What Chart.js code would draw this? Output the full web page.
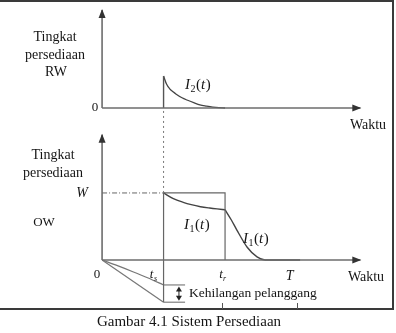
<!DOCTYPE html>
<html>
<head>
<meta charset="utf-8">
<script src="https://cdn.jsdelivr.net/npm/chart.js@4/dist/chart.umd.min.js"></script>
<style>
html,body{margin:0;padding:0;background:#fff;}
canvas{display:block;}
</style>
</head>
<body>
<canvas id="c" width="396" height="333"></canvas>
<script>
// ---- data (time in units where t_s = 1, t_r = 2; levels relative to W = 1 / RW peak = 1) ----
const keyTimes = { ts: 1, tr: 2, T: 3.05, axisEnd: 4.2 };
const frameTickTimes = [1.95, 3.17];

// RW panel: I2(t)
const i2Times  = [1.0, 1.05, 1.1, 1.16, 1.2, 1.3, 1.38, 1.5, 1.59, 1.7, 1.8, 1.9, 2.0];
const i2Values = [1.0, 0.74, 0.6, 0.5, 0.44, 0.32, 0.25, 0.16, 0.1, 0.06, 0.03, 0.01, 0.0];

// OW panel: I1(t) while RW is used (t_s..t_r)
const i1aTimes  = [1.0, 1.15, 1.32, 1.45, 1.6, 1.75, 1.87, 2.0];
const i1aValues = [1.0, 0.92, 0.86, 0.825, 0.795, 0.775, 0.762, 0.75];
// OW panel: I1(t) after t_r
const i1bTimes  = [2.0, 2.1, 2.19, 2.36, 2.52, 2.65, 2.9, 3.22];
const i1bValues = [0.75, 0.6, 0.45, 0.19, 0.045, 0.0, 0.0, 0.0];

// lost customers (below axis)
const lostUpperTimes  = [0, 0.25, 0.5, 0.75, 1.0];
const lostUpperValues = [0, -0.085, -0.175, -0.27, -0.373];
const lostLowerTimes  = [0, 1.0];
const lostLowerValues = [0, -0.63];

const levelW = 1;
const rwPeak = 1;

// ---- helpers ----
const pts = (xs, ys) => xs.map((x, i) => ({ x: x, y: ys[i] }));
const lineCol = '#444';
const axisCol = '#6c6c6c';
const txtCol  = '#151515';
const serif = '"Liberation Serif", "Times New Roman", serif';

function ds(data, axis, opts) {
  return Object.assign({
    data: data, yAxisID: axis, borderColor: lineCol, borderWidth: 1.3,
    pointRadius: 0, fill: false, tension: 0, showLine: true
  }, opts || {});
}

const datasets = [
  // RW axes
  ds([{x:0,y:0},{x:0,y:3.06}], 'yRW', {borderColor: axisCol, borderWidth: 1.6}),
  ds([{x:0,y:0},{x:keyTimes.axisEnd,y:0}], 'yRW', {borderColor: axisCol, borderWidth: 1.4}),
  // RW spike + decay
  ds([{x:keyTimes.ts,y:0},{x:keyTimes.ts,y:rwPeak}], 'yRW', {borderColor: '#555', borderWidth: 1.4}),
  ds(pts(i2Times, i2Values), 'yRW', {cubicInterpolationMode: 'monotone'}),
  // OW axes
  ds([{x:0,y:0},{x:0,y:1.87}], 'yOW', {borderColor: axisCol, borderWidth: 1.6}),
  ds([{x:0,y:0},{x:keyTimes.axisEnd,y:0}], 'yOW', {borderColor: axisCol, borderWidth: 1.4}),
  // dotted connector from RW axis down to W level
  ds([{x:keyTimes.ts,y:levelW},{x:keyTimes.ts,y:2.27}], 'yOW', {borderColor: '#777', borderWidth: 1, borderDash: [2,3]}),
  // W dash-dot reference
  ds([{x:0,y:levelW},{x:keyTimes.ts,y:levelW}], 'yOW', {borderColor: '#666', borderWidth: 1, borderDash: [5,2,1,2]}),
  // rectangle (ts..tr, 0..W) plus vertical down to lost level
  ds([{x:keyTimes.ts,y:lostLowerValues[1]},{x:keyTimes.ts,y:levelW},{x:keyTimes.tr,y:levelW},{x:keyTimes.tr,y:0}], 'yOW', {borderColor: '#666', borderWidth: 1.2}),
  // I1 curves
  ds(pts(i1aTimes, i1aValues), 'yOW', {cubicInterpolationMode: 'monotone', borderWidth: 1.4}),
  ds(pts(i1bTimes, i1bValues), 'yOW', {cubicInterpolationMode: 'monotone', borderWidth: 1.4}),
  // lost customers lines
  ds(pts(lostUpperTimes, lostUpperValues), 'yOW', {cubicInterpolationMode: 'monotone', borderColor: '#777', borderWidth: 1.2}),
  ds(pts(lostLowerTimes, lostLowerValues), 'yOW', {borderColor: '#777', borderWidth: 1.2}),
  // short horizontal markers
  ds([{x:keyTimes.ts,y:lostUpperValues[4]},{x:1.35,y:lostUpperValues[4]}], 'yOW', {borderColor: '#666', borderWidth: 1}),
  ds([{x:keyTimes.ts,y:lostLowerValues[1]},{x:1.35,y:lostLowerValues[1]}], 'yOW', {borderColor: '#666', borderWidth: 1})
];

function arrowHead(ctx, x, y, dir) {
  ctx.beginPath();
  if (dir === 'up') { ctx.moveTo(x, y); ctx.lineTo(x-3.5, y+9); ctx.lineTo(x+3.5, y+9); }
  else if (dir === 'right') { ctx.moveTo(x, y); ctx.lineTo(x-9, y-3.5); ctx.lineTo(x-9, y+3.5); }
  else if (dir === 'down') { ctx.moveTo(x, y); ctx.lineTo(x-3, y-5); ctx.lineTo(x+3, y-5); }
  else if (dir === 'upSmall') { ctx.moveTo(x, y); ctx.lineTo(x-3, y+5); ctx.lineTo(x+3, y+5); }
  ctx.closePath(); ctx.fill();
}

// draws e.g. I_2(t) with italic letters and subscript
function drawIt(ctx, x, y, sub) {
  ctx.textBaseline = 'alphabetic';
  ctx.textAlign = 'left';
  let cx = x;
  ctx.font = 'italic 15px ' + serif; ctx.fillText('I', cx, y); cx += ctx.measureText('I').width + 0.5;
  ctx.font = '10px ' + serif; ctx.fillText(sub, cx, y + 3); cx += ctx.measureText(sub).width + 0.5;
  ctx.font = '15px ' + serif; ctx.fillText('(', cx, y); cx += ctx.measureText('(').width;
  ctx.font = 'italic 15px ' + serif; ctx.fillText('t', cx, y); cx += ctx.measureText('t').width + 0.5;
  ctx.font = '15px ' + serif; ctx.fillText(')', cx, y);
}

const decor = {
  id: 'decor',
  afterDatasetsDraw(chart) {
    const ctx = chart.ctx;
    const sx = chart.scales.x, sOW = chart.scales.yOW, sRW = chart.scales.yRW;
    ctx.save();
    // frame
    ctx.strokeStyle = '#3a3a3a'; ctx.lineWidth = 2;
    ctx.beginPath(); ctx.moveTo(0, 1); ctx.lineTo(393, 1); ctx.lineTo(393, 309); ctx.lineTo(0, 309); ctx.stroke();
    // frame ticks
    ctx.strokeStyle = '#555'; ctx.lineWidth = 1;
    frameTickTimes.forEach(t => { const px = Math.round(sx.getPixelForValue(t)) + 0.5; ctx.beginPath(); ctx.moveTo(px, 303); ctx.lineTo(px, 309); ctx.stroke(); });

    // arrowheads
    ctx.fillStyle = '#333';
    const x0 = sx.getPixelForValue(0), xe = sx.getPixelForValue(keyTimes.axisEnd);
    arrowHead(ctx, x0, sRW.getPixelForValue(3.06) - 1, 'up');
    arrowHead(ctx, xe + 1, sRW.getPixelForValue(0), 'right');
    arrowHead(ctx, x0, sOW.getPixelForValue(1.87) - 1, 'up');
    arrowHead(ctx, xe + 1, sOW.getPixelForValue(0), 'right');

    // double arrow for lost customers
    const ax = sx.getPixelForValue(1.25);
    const yTop = sOW.getPixelForValue(lostUpperValues[4]) + 1.5, yBot = sOW.getPixelForValue(lostLowerValues[1]) - 1.5;
    ctx.strokeStyle = '#222'; ctx.lineWidth = 1;
    ctx.beginPath(); ctx.moveTo(ax, yTop + 3); ctx.lineTo(ax, yBot - 3); ctx.stroke();
    ctx.fillStyle = '#222';
    arrowHead(ctx, ax, yTop, 'upSmall');
    arrowHead(ctx, ax, yBot, 'down');

    // texts
    ctx.fillStyle = txtCol;
    ctx.textAlign = 'center'; ctx.textBaseline = 'middle';
    ctx.font = '14px ' + serif;
    ctx.fillText('Tingkat', 55, 37);
    ctx.fillText('persediaan', 55, 55);
    ctx.fillText('RW', 56, 72);
    ctx.fillText('Tingkat', 53, 155);
    ctx.fillText('persediaan', 53, 173);
    ctx.font = '13px ' + serif;
    ctx.fillText('OW', 44, 223);
    ctx.fillText('0', x0 - 7, sRW.getPixelForValue(0));
    ctx.fillText('0', x0 - 5, sOW.getPixelForValue(0) + 15);
    ctx.font = '14px ' + serif;
    ctx.fillText('Waktu', 368, 125);
    ctx.fillText('Waktu', 366, 277);
    ctx.font = 'italic 14px ' + serif;
    ctx.fillText('W', 82, sOW.getPixelForValue(levelW));
    ctx.fillText('T', sx.getPixelForValue(keyTimes.T), 276);
    // t_s and t_r
    ctx.font = 'italic 13px ' + serif;
    ctx.fillText('t', sx.getPixelForValue(keyTimes.ts) - 12, 275);
    ctx.fillText('t', sx.getPixelForValue(keyTimes.tr) - 4, 275);
    ctx.font = 'italic 8px ' + serif;
    ctx.fillText('s', sx.getPixelForValue(keyTimes.ts) - 8, 279);
    ctx.fillText('r', sx.getPixelForValue(keyTimes.tr) - 0.5, 279);
    // curve labels
    drawIt(ctx, 185, 89, '2');
    drawIt(ctx, 184, 229, '1');
    drawIt(ctx, 243, 243, '1');
    // lost customers
    ctx.textAlign = 'left'; ctx.textBaseline = 'middle';
    ctx.font = '13.5px ' + serif;
    ctx.fillText('Kehilangan pelanggang', 189, 293);
    // caption
    ctx.textAlign = 'center';
    ctx.font = '15px ' + serif;
    ctx.fillText('Gambar 4.1 Sistem Persediaan', 189, 322);
    ctx.restore();
  }
};

new Chart(document.getElementById('c'), {
  type: 'scatter',
  data: { datasets: datasets },
  options: {
    responsive: false,
    animation: false,
    devicePixelRatio: 1,
    layout: { padding: 0 },
    plugins: { legend: { display: false }, tooltip: { enabled: false } },
    scales: {
      x:   { type: 'linear', min: -1.66, max: 4.78, display: false },
      yOW: { type: 'linear', min: -1.09, max: 3.88, display: false },
      yRW: { type: 'linear', min: -7.03, max: 3.375, display: false }
    }
  },
  plugins: [decor]
});
</script>
</body>
</html>
